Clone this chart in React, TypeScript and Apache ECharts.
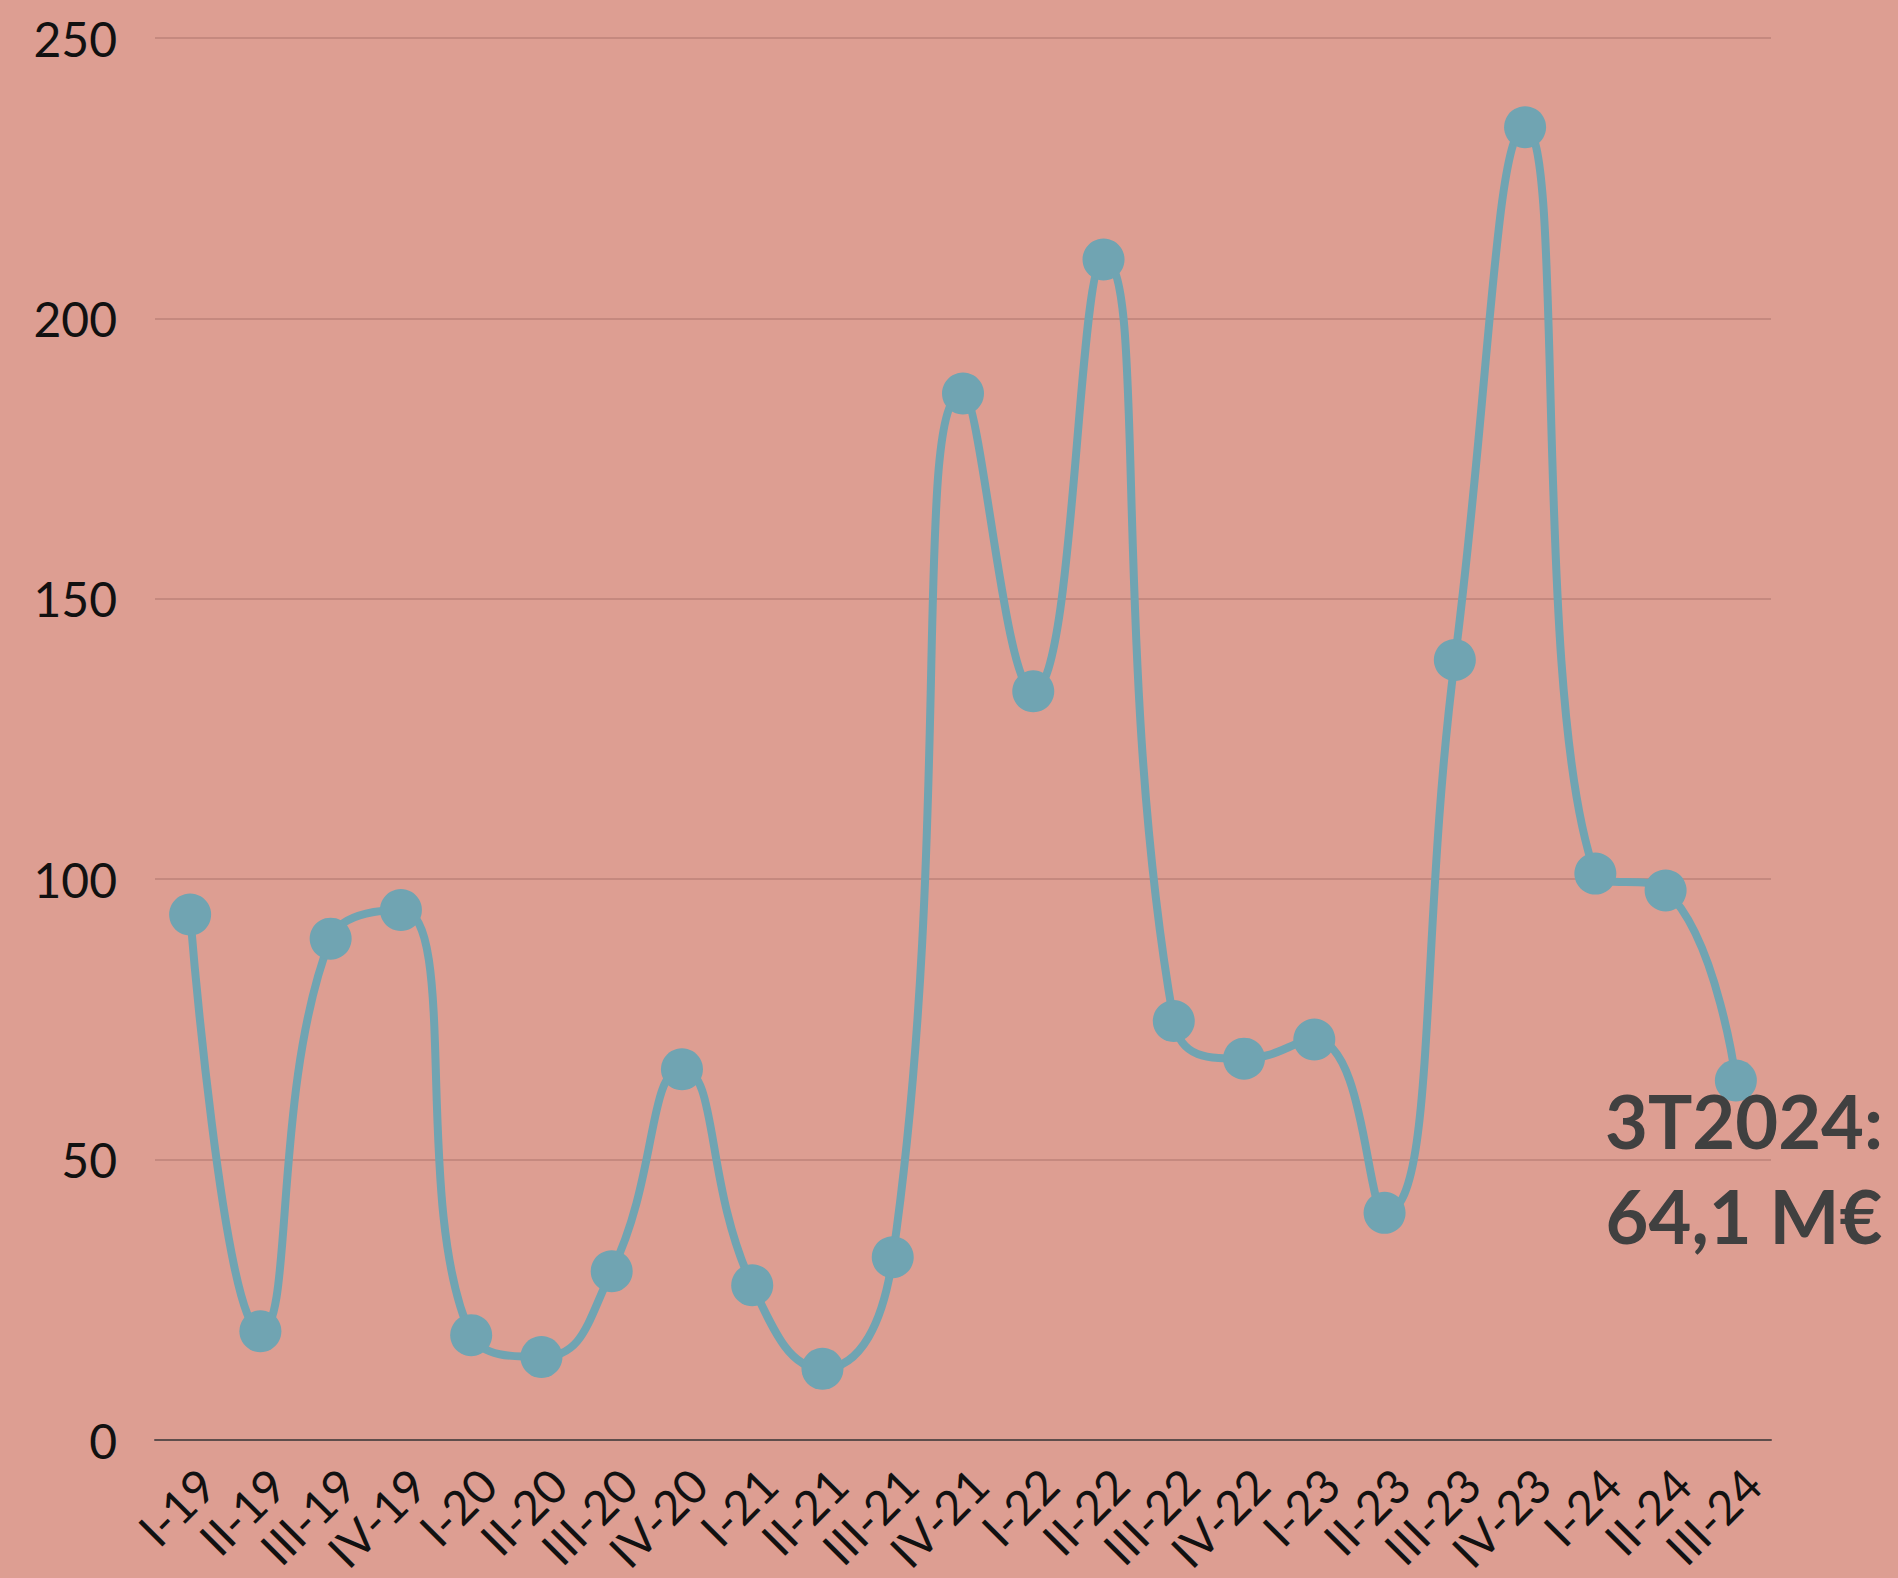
import React, { useEffect, useRef } from "react";
import * as echarts from "echarts";

const categories = [
  "I-19", "II-19", "III-19", "IV-19",
  "I-20", "II-20", "III-20", "IV-20",
  "I-21", "II-21", "III-21", "IV-21",
  "I-22", "II-22", "III-22", "IV-22",
  "I-23", "II-23", "III-23", "IV-23",
  "I-24", "II-24", "III-24",
];

const values = [
  93.7, 19.4, 89.4, 94.5,
  18.7, 14.8, 30.1, 66.1,
  27.6, 12.7, 32.6, 186.6,
  133.5, 210.5, 74.7, 68.0,
  71.4, 40.5, 139.1, 234.1,
  101.0, 98.0, 64.1,
];

const yMin = 0;
const yMax = 250;
const yStep = 50;

const annotationLines = ["3T2024:", "64,1 M€"];

const BG = "#DD9E92";
const LINE = "#70A4B2";
const FONT = "Lato, 'Noto Sans', sans-serif";

export default function App() {
  const ref = useRef<HTMLDivElement>(null);

  useEffect(() => {
    if (!ref.current) return;
    const chart = echarts.init(ref.current, undefined, { renderer: "svg" });
    chart.setOption({
      animation: false,
      backgroundColor: BG,
      grid: {
        left: 155,
        right: 127,
        top: 38,
        bottom: 138,
        containLabel: false,
        outerBoundsMode: "none",
      },
      xAxis: {
        type: "category",
        data: categories,
        boundaryGap: true,
        axisLine: { show: true, lineStyle: { color: "#5e4d4b", width: 2 } },
        axisTick: { show: false },
        axisLabel: {
          interval: 0,
          rotate: 45,
          margin: 20,
          verticalAlign: "top",
          color: "#111111",
          fontFamily: FONT,
          fontSize: 47,
        },
        splitLine: { show: false },
      },
      yAxis: {
        type: "value",
        min: yMin,
        max: yMax,
        interval: yStep,
        axisLine: { show: false },
        axisTick: { show: false },
        axisLabel: {
          margin: 38,
          color: "#111111",
          fontFamily: FONT,
          fontSize: 48,
        },
        splitLine: { show: true, lineStyle: { color: "#BD8278", width: 1.5 } },
      },
      series: [
        {
          type: "line",
          data: values,
          smooth: 0.5,
          symbol: "circle",
          symbolSize: 42,
          lineStyle: { color: LINE, width: 8 },
          itemStyle: { color: LINE },
          z: 3,
        },
      ],
      graphic: annotationLines.map((t, i) => ({
        type: "text",
        x: 1744,
        y: 1120 + i * 95,
        z: 100,
        style: {
          text: t,
          align: "center",
          verticalAlign: "middle",
          fontFamily: FONT,
          fontWeight: "bold",
          fontSize: 74,
          fill: "#404040",
        },
      })),
    });
    return () => chart.dispose();
  }, []);

  return (
    <div
      ref={ref}
      style={{ position: "fixed", left: 0, top: 0, width: 1898, height: 1578 }}
    />
  );
}
